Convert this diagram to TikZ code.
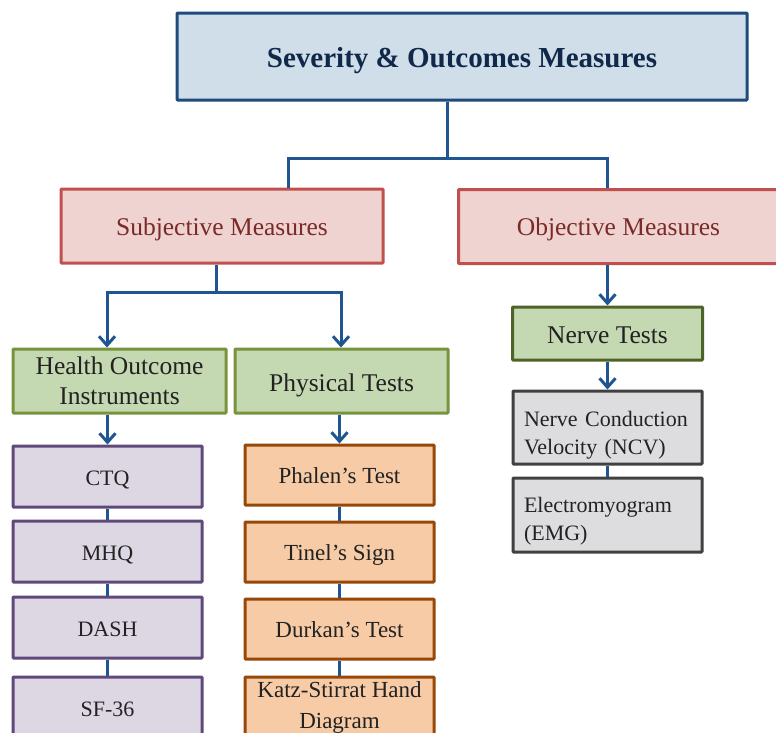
\documentclass[tikz,border=0pt]{standalone}
\usepackage{fontspec}
\setmainfont{Liberation Serif}
\usetikzlibrary{arrows.meta}
\definecolor{cconn}{HTML}{1F5591}
\definecolor{ctopfill}{HTML}{D0DEE9}
\definecolor{ctopdraw}{HTML}{1F4A7C}
\definecolor{ctoptext}{HTML}{10294A}
\definecolor{credfill}{HTML}{EFD3D1}
\definecolor{creddraw}{HTML}{C0504D}
\definecolor{credtext}{HTML}{7A2A28}
\definecolor{cgrnfill}{HTML}{C4D8B2}
\definecolor{cgrndraw}{HTML}{77933C}
\definecolor{cgrndark}{HTML}{4F6228}
\definecolor{clavfill}{HTML}{DDD7E4}
\definecolor{clavdraw}{HTML}{5F497A}
\definecolor{cpchfill}{HTML}{F6CBA6}
\definecolor{cpchdraw}{HTML}{974806}
\definecolor{cgryfill}{HTML}{DDDDDF}
\definecolor{cgrydraw}{HTML}{404040}
\definecolor{ctext}{HTML}{222222}
\tikzset{
  box/.style={rectangle, line width=3pt, inner sep=2pt, text=ctext, rounded corners=0.8pt},
  oneline/.style={text depth=0pt, text height=#1},
  topbox/.style={box, fill=ctopfill, draw=ctopdraw, minimum width=570, minimum height=87,
     font=\bfseries\fontsize{29}{32}\selectfont, text=ctoptext, oneline=21pt},
  redbox/.style={box, fill=credfill, draw=creddraw, minimum height=74, text=credtext,
     font=\fontsize{25.5}{30}\selectfont, oneline=18.5pt},
  grnbox/.style={box, fill=cgrnfill, draw=cgrndraw, minimum width=213, minimum height=64,
     font=\fontsize{25.5}{30}\selectfont},
  lavbox/.style={box, fill=clavfill, draw=clavdraw, minimum width=189, minimum height=61,
     font=\fontsize{22}{26}\selectfont, oneline=17pt},
  pchbox/.style={box, fill=cpchfill, draw=cpchdraw, minimum width=189, minimum height=60,
     font=\fontsize{23}{31}\selectfont},
  grybox/.style={box, fill=cgryfill, draw=cgrydraw, text width=167, inner xsep=11, align=left,
     font=\fontsize{22}{28}\selectfont},
  conn/.style={draw=cconn, line width=3pt},
  arr/.style={conn, -{Straight Barb[length=9pt,width=16pt]}},
}
\begin{document}
\begin{tikzpicture}[x=1pt,y=-1pt]
\useasboundingbox (0,0) rectangle (776,732);
\clip (0,0) rectangle (776,732);
% top
\node[topbox] (top) at (462,56.5) {Severity \& Outcomes Measures};
\node[redbox, minimum width=322] (sub) at (222,226) {Subjective Measures};
\node[redbox, minimum width=320, anchor=west] (obj) at (457,226.5) {Objective Measures};
\coordinate (j1) at (447,158);
\draw[conn] ([xshift=-15]top.south) -- (j1);
\draw[conn] ([xshift=66]sub.north) |- (j1) -| ([xshift=-11]obj.north);
% subjective branch
\node[grnbox, align=center] (health) at (119.5,381) {Health Outcome\\Instruments};
\node[grnbox, oneline=20pt] (phys) at (341.5,381) {Physical Tests};
\coordinate (j2) at (216,292);
\draw[conn] ([xshift=-6]sub.south) -- (j2);
\draw[arr] (j2) -| ([xshift=-12.5]health.north);
\draw[arr] (j2) -| ([xshift=-0.5]phys.north);
% left column
\node[lavbox] (ctq) at (107.5,476.5) {CTQ};
\node[lavbox] (mhq) at (107.5,551.5) {MHQ};
\node[lavbox] (dash) at (107.5,627.5) {DASH};
\node[lavbox] (sf) at (107.5,707.5) {SF-36};
\draw[arr] (ctq.north |- health.south) -- (ctq.north);
\draw[conn] (ctq.south) -- (mhq.north);
\draw[conn] (mhq.south) -- (dash.north);
\draw[conn] (dash.south) -- (sf.north);
% right column
\node[pchbox, oneline=16pt] (phalen) at (339.5,475) {Phalen’s Test};
\node[pchbox, oneline=16pt] (tinel) at (339.5,552) {Tinel’s Sign};
\node[pchbox, oneline=16pt] (durkan) at (339.5,629) {Durkan’s Test};
\node[pchbox, align=center] (katz) at (339.5,707) {Katz-Stirrat Hand\\Diagram};
\draw[arr] (phalen.north |- phys.south) -- (phalen.north);
\draw[conn] (phalen.south) -- (tinel.north);
\draw[conn] (tinel.south) -- (durkan.north);
\draw[conn] (durkan.south) -- (katz.north);
% objective branch
\node[grnbox, draw=cgrndark, minimum width=190, minimum height=53, oneline=19pt] (nerve) at (607.5,333.5) {Nerve Tests};
\node[grybox, minimum height=73] (ncv) at (607.5,427.5) {\rule{0pt}{30pt}Nerve Conduction\\Velocity (NCV)};
\node[grybox, minimum height=74] (emg) at (607.5,515) {\rule{0pt}{28pt}Electromyogram\\(EMG)};
\draw[arr] (obj.south -| nerve.north) -- (nerve.north);
\draw[arr] (nerve.south) -- (ncv.north);
\draw[conn] (ncv.south) -- (emg.north);
\end{tikzpicture}
\end{document}
